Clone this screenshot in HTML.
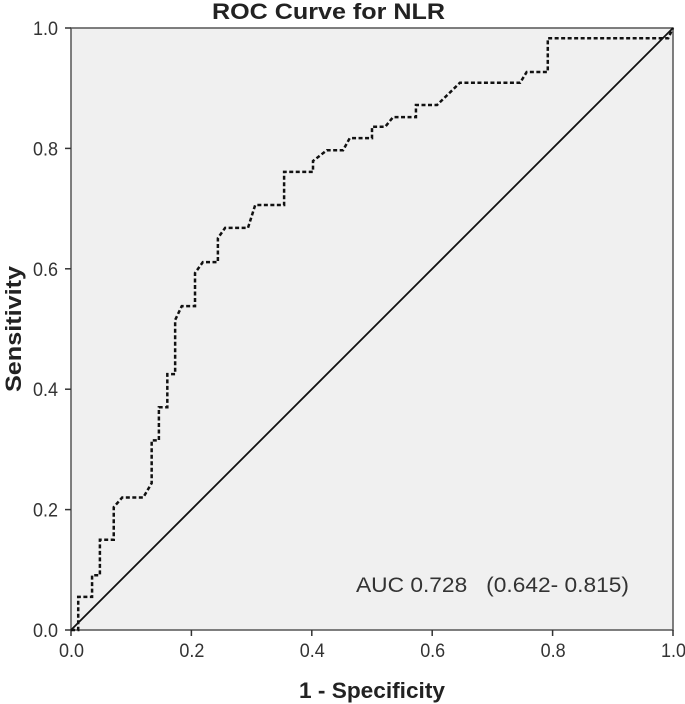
<!DOCTYPE html>
<html><head><meta charset="utf-8"><style>
body{margin:0;background:#fff;}
svg{display:block;font-family:"Liberation Sans",Arial,sans-serif;}
</style></head><body>
<svg width="685" height="704">
<g id="plot"></g>
</svg>
<script>
const fpr=[0,0.012,0.012,0.035,0.035,0.048,0.048,0.071,0.071,0.085,0.12,0.134,0.134,0.146,0.146,0.16,0.16,0.173,0.173,0.184,0.206,0.206,0.219,0.244,0.244,0.256,0.294,0.306,0.354,0.354,0.402,0.402,0.425,0.452,0.463,0.5,0.5,0.522,0.535,0.573,0.573,0.608,0.646,0.746,0.757,0.792,0.792,0.992,1];
const tpr=[0,0,0.055,0.055,0.091,0.091,0.15,0.15,0.204,0.22,0.22,0.244,0.315,0.315,0.37,0.37,0.425,0.425,0.515,0.538,0.538,0.593,0.611,0.611,0.651,0.668,0.668,0.706,0.706,0.761,0.761,0.779,0.797,0.797,0.817,0.817,0.836,0.836,0.852,0.852,0.872,0.872,0.909,0.909,0.927,0.927,0.983,0.983,1];
const ticks=[0,0.2,0.4,0.6,0.8,1.0];
const tickLabels=["0.0","0.2","0.4","0.6","0.8","1.0"];
const X0=71,X1=673,Y0=630,Y1=28;
const sx=v=>X0+v*(X1-X0), sy=v=>Y0-v*(Y0-Y1);
const NS="http://www.w3.org/2000/svg";
const svg=document.querySelector('svg');
function mk(t,a,txt){const e=document.createElementNS(NS,t);for(const k in a)e.setAttribute(k,a[k]);if(txt!=null)e.textContent=txt;svg.appendChild(e);return e;}
let e;
e=mk('rect',{x:X0,y:Y1,width:X1-X0,height:Y0-Y1,fill:'#f0f0f0',stroke:'#555','stroke-width':1.5});


e=mk('text',{x:212,y:19,'font-size':22,'font-weight':'bold',fill:'#222',textLength:233,lengthAdjust:'spacingAndGlyphs'},'ROC Curve for NLR');


ticks.forEach((t,i)=>{
 let a=mk('line',{x1:sx(t),x2:sx(t),y1:Y0,y2:Y0+6,stroke:'#333','stroke-width':1.5});
 
 
 a=mk('text',{x:sx(t)-12,y:Y0+27,'font-size':19,fill:'#333',textLength:25,lengthAdjust:'spacingAndGlyphs'},tickLabels[i]);
 
 
 a=mk('line',{x1:X0-6,x2:X0,y1:sy(t),y2:sy(t),stroke:'#333','stroke-width':1.5});
 
 
 a=mk('text',{x:X0-38,y:sy(t)+7,'font-size':19,fill:'#333',textLength:25,lengthAdjust:'spacingAndGlyphs'},tickLabels[i]);
 
 
});
e=mk('line',{x1:sx(0),y1:sy(0),x2:sx(1),y2:sy(1),stroke:'#111','stroke-width':1.8});


e=mk('polyline',{points:fpr.map((f,i)=>sx(f)+','+sy(tpr[i])).join(' '),fill:'none',stroke:'#111','stroke-width':2.5,'stroke-dasharray':'4,2.5'});


e=mk('text',{x:356,y:592,'font-size':21,fill:'#333',textLength:273,lengthAdjust:'spacingAndGlyphs'},'AUC 0.728   (0.642- 0.815)');
e.style.whiteSpace='pre';


e=mk('text',{x:299,y:698,'font-size':22,'font-weight':'bold',fill:'#222',textLength:146,lengthAdjust:'spacingAndGlyphs'},'1 - Specificity');


e=mk('text',{x:0,y:0,'font-size':22,'font-weight':'bold',fill:'#222',textLength:126,lengthAdjust:'spacingAndGlyphs',transform:'translate(21,392) rotate(-90)'},'Sensitivity');


</script>
</body></html>
